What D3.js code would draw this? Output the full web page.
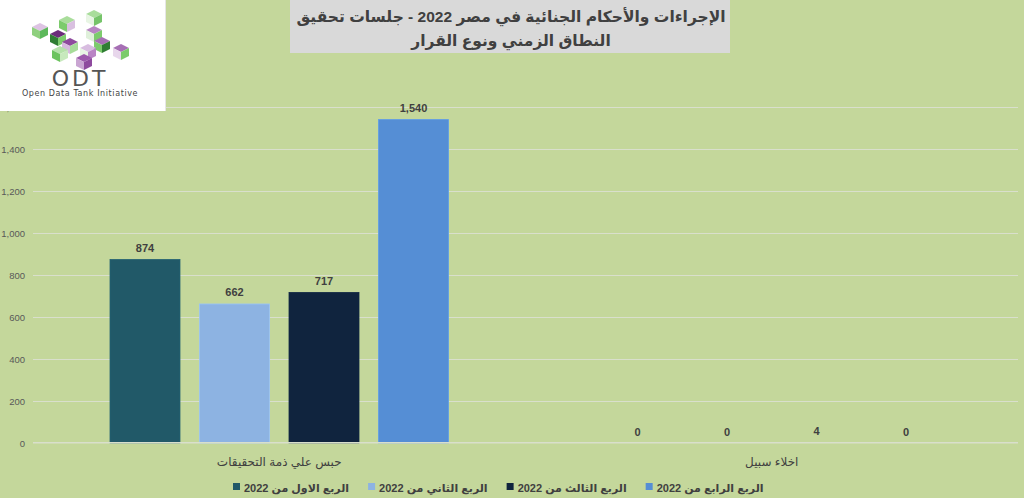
<!DOCTYPE html>
<html><head><meta charset="utf-8">
<script src="https://cdn.jsdelivr.net/npm/d3@7"></script>
<style>
html,body{margin:0;padding:0;background:#c4d79b;}
svg{display:block;font-family:"Liberation Sans","DejaVu Sans",Arial,sans-serif;}
</style></head>
<body>
<svg id="chart" width="1024" height="498"></svg>
<script>
const categories = ["حبس علي ذمة التحقيقات", "اخلاء سبيل"];
const seriesNames = ["الربع الاول من 2022", "الربع الثاني من 2022", "الربع الثالث من 2022", "الربع الرابع من 2022"];
const q1Values = [874, 0];
const q2Values = [662, 0];
const q3Values = [717, 4];
const q4Values = [1540, 0];
const seriesColors = ["#215968", "#8db3e2", "#10243e", "#558ed5"];
const yTicks = [0, 200, 400, 600, 800, 1000, 1200, 1400, 1600];
const titleLines = ["الإجراءات والأحكام الجنائية في مصر 2022 - جلسات تحقيق", "النطاق الزمني ونوع القرار"];

const seriesValues = [q1Values, q2Values, q3Values, q4Values];
const W = 1024, H = 498;
const svg = d3.select("#chart");
svg.append("rect").attr("width", W).attr("height", H).attr("fill", "#c4d79b");

const plot = {left: 33, right: 1018, top: 107, bottom: 443};
const y = d3.scaleLinear().domain([0, 1600]).range([plot.bottom, plot.top]);
const x0 = d3.scaleBand().domain(categories).range([plot.left, plot.right]).padding(0);
const step = x0.step();
const x1 = d3.scaleBand().domain(d3.range(4)).range([67.25 / 492.5 * step, (492.5 - 67.25) / 492.5 * step])
  .paddingInner(0.218).paddingOuter(0.109);

// gridlines
svg.append("g").selectAll("line").data(yTicks.filter(d => d > 0)).join("line")
  .attr("x1", plot.left).attr("x2", plot.right)
  .attr("y1", d => Math.round(y(d)) + 0.5).attr("y2", d => Math.round(y(d)) + 0.5)
  .attr("stroke", "#d9dfcc").attr("stroke-width", 1.2);

// y axis labels
const yAxis = d3.axisLeft(y).tickValues(yTicks).tickFormat(d3.format(",")).tickSize(0).tickPadding(0);
const yg = svg.append("g").attr("transform", `translate(25,0)`).call(yAxis);
yg.select(".domain").remove();
yg.selectAll("text").attr("fill", "#595959").attr("font-size", 9.5).attr("font-family", "Liberation Sans, Arial, sans-serif");

// bars
const groups = svg.append("g").selectAll("g").data(categories).join("g")
  .attr("transform", d => `translate(${x0(d)},0)`);
groups.each(function(cat, ci) {
  const g = d3.select(this);
  seriesValues.forEach((vals, si) => {
    const v = vals[ci];
    const h = y(0) - y(v);
    g.append("rect")
      .attr("x", x1(si)).attr("width", x1.bandwidth())
      .attr("y", y(v)).attr("height", h)
      .attr("fill", seriesColors[si])
      .attr("stroke", h > 5 ? d3.color(seriesColors[si]).brighter(0.25) : "none")
      .attr("stroke-width", 0.8);
    g.append("text")
      .attr("x", x1(si) + x1.bandwidth() / 2).attr("y", y(v) - 7.5)
      .attr("text-anchor", "middle").attr("font-size", 11).attr("font-weight", "bold")
      .attr("fill", "#404040").attr("font-family", "Liberation Sans, Arial, sans-serif")
      .text(d3.format(",")(v));
  });
});

// zero line on top
svg.append("line").attr("x1", plot.left).attr("x2", plot.right)
  .attr("y1", y(0) - 0.3).attr("y2", y(0) - 0.3)
  .attr("stroke", "#d9dfcc").attr("stroke-width", 1.6);

// category labels
svg.append("g").selectAll("text").data(categories).join("text")
  .attr("x", d => x0(d) + step / 2).attr("y", 466)
  .attr("text-anchor", "middle").attr("font-size", 12).attr("fill", "#404040")
  .text(d => d);

// legend
const legend = svg.append("g");
let lx = 233;
seriesNames.forEach((name, i) => {
  legend.append("rect").attr("x", lx).attr("y", 483).attr("width", 7).attr("height", 7).attr("fill", seriesColors[i]);
  const t = legend.append("text").attr("x", lx + 11).attr("y", 491.5)
    .attr("font-size", 11).attr("font-weight", "bold").attr("fill", "#404040").text(name);
  const w = t.node().getComputedTextLength();
  lx += 11 + w + 19;
});

// title box
svg.append("rect").attr("x", 290).attr("y", 0).attr("width", 440).attr("height", 53).attr("fill", "#d9d9d9");
svg.append("g").selectAll("text").data(titleLines).join("text")
  .attr("x", 511).attr("y", (d, i) => 22 + i * 24)
  .attr("text-anchor", "middle").attr("font-size", 15.5).attr("font-weight", "bold").attr("fill", "#404040")
  .text(d => d);

// logo
const logo = svg.append("g");
logo.append("rect").attr("x", 0).attr("y", 0).attr("width", 165).attr("height", 111).attr("fill", "#ffffff");
logo.append("line").attr("x1", 165.5).attr("x2", 165.5).attr("y1", 0).attr("y2", 111).attr("stroke", "#e6e6e6");
const cubes = [
  [40, 31, "#ddc3e3", "#8fd07e", "#5cb85a"],
  [67, 24, "#a9dd9b", "#7ccb6c", "#d9c0e0"],
  [94, 18, "#a9dd9b", "#e8f5e4", "#76c46a"],
  [58, 38, "#6b2b7a", "#2f7d33", "#7ccb6c"],
  [94, 34, "#b785c3", "#dff0da", "#7ccb6c"],
  [70, 46, "#8e4a9e", "#d6b9de", "#a7dc9a"],
  [102, 45, "#a66fb4", "#7ccb6c", "#2f7d33"],
  [60, 54, "#b5e2aa", "#6cc35f", "#c7e9bd"],
  [88, 52, "#d8bde0", "#e8f5e4", "#b985c5"],
  [121, 52, "#a66fb4", "#e8d7ec", "#7ccb6c"],
  [84, 62, "#9c5aab", "#c9a5d2", "#8e4a9e"]
];
const s = 8;
cubes.forEach(([cx, cy, top, left, right]) => {
  const pts = a => a.map(p => p.join(",")).join(" ");
  logo.append("polygon").attr("points", pts([[cx - s, cy - s / 2], [cx, cy - s], [cx + s, cy - s / 2], [cx, cy]])).attr("fill", top);
  logo.append("polygon").attr("points", pts([[cx - s, cy - s / 2], [cx, cy], [cx, cy + s], [cx - s, cy + s / 2]])).attr("fill", left);
  logo.append("polygon").attr("points", pts([[cx, cy], [cx + s, cy - s / 2], [cx + s, cy + s / 2], [cx, cy + s]])).attr("fill", right);
});
logo.append("text").attr("x", 80).attr("y", 86).attr("text-anchor", "middle")
  .attr("font-size", 22).attr("font-family", "DejaVu Sans, sans-serif").attr("fill", "#555555").attr("letter-spacing", 3).text("ODT");
logo.append("text").attr("x", 80).attr("y", 96).attr("text-anchor", "middle")
  .attr("font-size", 8).attr("font-family", "DejaVu Sans, sans-serif").attr("fill", "#444444").attr("letter-spacing", 0.6).text("Open Data Tank Initiative");
</script>
</body></html>
